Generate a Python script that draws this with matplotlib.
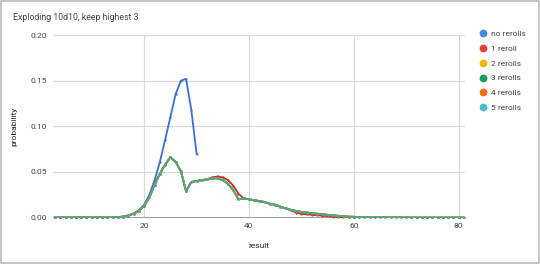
import matplotlib.pyplot as plt
from matplotlib.patches import Rectangle
from matplotlib.lines import Line2D

plt.rcParams['font.family'] = ['Roboto', 'DejaVu Sans']

# results for each series
x_none = list(range(3, 31))
no_rerolls = [0, 0, 0, 0, 0, 0, 0, 0, 0, 0, 0.0001, 0.0001, 0.0004, 0.001,
              0.0023, 0.0045, 0.008, 0.014, 0.025, 0.041, 0.061, 0.085, 0.110,
              0.135, 0.150, 0.152, 0.118, 0.070]

x_one = list(range(3, 61))
one_reroll = [0, 0, 0, 0, 0, 0, 0, 0, 0, 0, 0, 0.0001, 0.0004, 0.001,
              0.0022, 0.0042, 0.0075, 0.013, 0.022, 0.036, 0.048, 0.058, 0.066,
              0.061, 0.051, 0.029, 0.039, 0.040, 0.041, 0.042, 0.044, 0.045,
              0.044, 0.041, 0.035, 0.026, 0.021, 0.020, 0.019, 0.018, 0.017,
              0.015, 0.014, 0.012, 0.010, 0.008, 0.0055, 0.004, 0.0035, 0.003,
              0.0025, 0.002, 0.0015, 0.001, 0.0006, 0.0003, 0.0001, 0.0]

x_many = list(range(3, 82))
five_rerolls = [0, 0, 0, 0, 0, 0, 0, 0, 0, 0, 0, 0.0001, 0.0004, 0.001,
                0.0022, 0.0042, 0.0075, 0.013, 0.022, 0.036, 0.048, 0.058, 0.066,
                0.061, 0.051, 0.029, 0.039, 0.040, 0.041, 0.042, 0.043, 0.043,
                0.041, 0.037, 0.030, 0.020, 0.021, 0.020, 0.019, 0.018, 0.017,
                0.015, 0.014, 0.012, 0.010, 0.0085, 0.0072, 0.0062, 0.0055, 0.0048,
                0.0042, 0.0036, 0.003, 0.0024, 0.0019, 0.0014, 0.001, 0.0008, 0.0006,
                0.0005, 0.0004, 0.0003, 0.0003, 0.0002, 0.0001, 0.0001, 0.0001,
                0.0001, 0, 0, 0, 0, 0, 0, 0, 0, 0, 0, 0]
# 2-4 rerolls are hidden under the 5 rerolls line
two_rerolls = list(five_rerolls)
three_rerolls = list(five_rerolls)
four_rerolls = list(five_rerolls)

labels = ['no rerolls', '1 reroll', '2 rerolls', '3 rerolls', '4 rerolls', '5 rerolls']
line_colors = ['#3b6fd0', '#c5302a', '#f4b400', '#2d9466', '#ff6d00', '#4aa893']
dot_colors = ['#4285f4', '#db4437', '#f4b400', '#0f9d58', '#ff6d01', '#46bdc6']

fig = plt.figure(figsize=(5.4, 2.64), dpi=100)
ax = fig.add_axes([0.098, 0.176, 0.763, 0.691])

series = [(x_none, no_rerolls), (x_one, one_reroll), (x_many, two_rerolls),
          (x_many, three_rerolls), (x_many, four_rerolls), (x_many, five_rerolls)]
for (xs, ys), c in zip(series, line_colors):
    ax.plot(xs, ys, color=c, lw=1.3, marker='o', ms=1.6, mew=0)

ax.set_xlim(2.6, 81.2)
ax.set_ylim(0, 0.2)
ax.set_xticks([20, 40, 60, 80])
ax.set_yticks([0, 0.05, 0.10, 0.15, 0.20])
ax.set_yticklabels(['0.00', '0.05', '0.10', '0.15', '0.20'])
ax.grid(True, color='#d9d9d9', lw=0.8)
ax.set_axisbelow(True)
ax.axhline(0, color='#888888', lw=1.2, zorder=1.5)
for s in ax.spines.values():
    s.set_visible(False)
ax.tick_params(length=0, labelsize=6, colors='#444444', pad=4)
ax.set_xlabel('result', fontsize=6, color='#222222', labelpad=10)
ax.set_ylabel('probability', fontsize=6, color='#222222', labelpad=10)

fig.text(0.024, 0.932, 'Exploding 10d10, keep highest 3', fontsize=6.3,
         color='#444444', va='center')

handles = [Line2D([], [], ls='none', marker='o', ms=4.6, mfc=c, mec=c) for c in dot_colors]
fig.legend(handles, labels, loc='upper left', bbox_to_anchor=(0.886, 0.885),
           frameon=False, fontsize=6, labelspacing=0.95, handletextpad=0.55,
           handlelength=1.0, borderaxespad=0, borderpad=0, labelcolor='#444444')

fig.patches.append(Rectangle((0.001, 0.002), 0.997, 0.995, transform=fig.transFigure,
                             fill=False, ec='#bbbbbb', lw=1.2))

fig.savefig('out.png', dpi=100)
